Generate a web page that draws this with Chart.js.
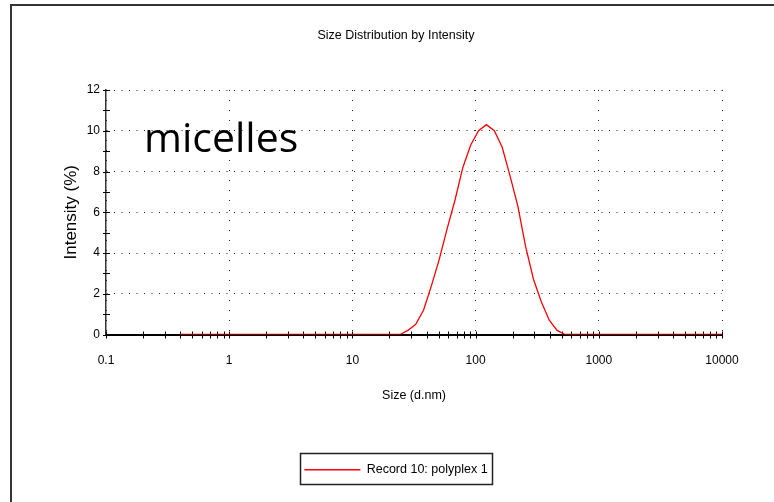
<!DOCTYPE html>
<html>
<head>
<meta charset="utf-8">
<title>Size Distribution by Intensity</title>
<script src="https://cdn.jsdelivr.net/npm/chart.js@4.4.0/dist/chart.umd.min.js"></script>
<style>
  html, body { margin: 0; padding: 0; background: #fff; }
  #wrap { position: relative; width: 774px; height: 502px; overflow: hidden; }
  #frame { position: absolute; left: 10px; top: 4px; right: -4px; bottom: -4px; border-top: 2px solid #333; border-left: 2px solid #333; pointer-events: none; }
</style>
</head>
<body>
<div id="wrap">
  <canvas id="sizeChart" width="774" height="502"></canvas>
  <div id="frame"></div>
</div>
<script>
// canais de tamanho (d.nm) do equipamento
const sizes = [
    0.4, 0.4632, 0.5365, 0.6213, 0.7195, 0.8332, 0.9649, 1.117, 1.294, 1.499,
    1.736, 2.01, 2.328, 2.696, 3.122, 3.615, 4.187, 4.849, 5.615, 6.503,
    7.531, 8.721, 10.1, 11.7, 13.54, 15.69, 18.17, 21.04, 24.36, 28.21,
    32.67, 37.84, 43.82, 50.75, 58.77, 68.06, 78.82, 91.28, 105.7, 122.4,
    141.8, 164.2, 190.1, 220.2, 255.0, 295.3, 342.0, 396.1, 458.7, 531.2,
    615.1, 712.4, 825.0, 955.4, 1106, 1281, 1484, 1718, 1990, 2305,
    2669, 3091, 3580, 4145, 4801, 5560, 6439, 7456, 8635, 10000
];

// intensidade (%)
const intensity = [
    0, 0, 0, 0, 0, 0, 0, 0, 0, 0,
    0, 0, 0, 0, 0, 0, 0, 0, 0, 0,
    0, 0, 0, 0, 0, 0, 0, 0, 0, 0.2,
    0.5, 1.2, 2.4, 3.7, 5.2, 6.6, 8.2, 9.3, 10.0, 10.3,
    10.0, 9.2, 7.8, 6.3, 4.3, 2.7, 1.6, 0.7, 0.2, 0,
    0, 0, 0, 0, 0, 0, 0, 0, 0, 0,
    0, 0, 0, 0, 0, 0, 0, 0, 0, 0
];

const seriesLabel = 'Record 10: polyplex 1';
const xTicks = [0.1, 1, 10, 100, 1000, 10000];
const yTicks = [0, 2, 4, 6, 8, 10, 12];
const noteText = 'micelles';

Chart.defaults.font.family = '"Liberation Sans", Arial, sans-serif';
Chart.defaults.font.size = 12;
Chart.defaults.color = '#111';

// marcas pequenas cruzando os eixos (menores e maiores)
const axisMarks = {
    id: 'axisMarks',
    beforeDatasetsDraw(chart) {
        const { ctx, chartArea, scales: { x, y } } = chart;
        ctx.save();
        ctx.strokeStyle = '#000';
        ctx.lineWidth = 1;
        ctx.beginPath();
        for (let d = 0; d < xTicks.length - 1; d++) {
            for (let m = 1; m < 10; m++) {
                const px = Math.round(x.getPixelForValue(xTicks[d] * m)) + 0.5;
                ctx.moveTo(px, chartArea.bottom - 3);
                ctx.lineTo(px, chartArea.bottom + 4);
            }
        }
        const last = Math.round(x.getPixelForValue(xTicks[xTicks.length - 1])) + 0.5;
        ctx.moveTo(last, chartArea.bottom - 3);
        ctx.lineTo(last, chartArea.bottom + 4);
        for (let v = 0; v <= 12; v++) {
            const py = Math.round(y.getPixelForValue(v)) + 0.5;
            ctx.moveTo(chartArea.left - 3, py);
            ctx.lineTo(chartArea.left + 4, py);
        }
        ctx.stroke();
        ctx.restore();
    }
};

// moldura em volta da legenda
const legendFrame = {
    id: 'legendFrame',
    afterDraw(chart) {
        const hb = chart.legend && chart.legend.legendHitBoxes[0];
        if (!hb) return;
        const ctx = chart.ctx;
        const cy = hb.top + hb.height / 2;
        ctx.save();
        ctx.strokeStyle = '#222';
        ctx.lineWidth = 1.5;
        ctx.strokeRect(Math.round(hb.left) - 3.5, Math.round(cy) - 16.5, Math.round(hb.width) + 9, 31);
        ctx.restore();
    }
};

// texto "micelles" dentro do gráfico
const noteLabel = {
    id: 'noteLabel',
    afterDraw(chart) {
        const ctx = chart.ctx;
        ctx.save();
        ctx.font = '41px "Open Sans", "Noto Sans", sans-serif';
        ctx.fillStyle = '#000';
        ctx.textBaseline = 'alphabetic';
        ctx.fillText(noteText, 144, 152);
        ctx.restore();
    }
};

const ctx = document.getElementById('sizeChart').getContext('2d');
const sizeChart = new Chart(ctx, {
    type: 'line',
    data: {
        datasets: [{
            label: seriesLabel,
            data: sizes.map((s, i) => ({ x: s, y: intensity[i] })),
            borderColor: '#ff0000',
            backgroundColor: '#ff0000',
            borderWidth: 1.3,
            pointRadius: 0,
            tension: 0,
            fill: false
        }]
    },
    options: {
        responsive: false,
        animation: false,
        layout: { padding: { left: 18, right: 0, top: 0, bottom: 16 } },
        plugins: {
            title: {
                display: true,
                text: 'Size Distribution by Intensity',
                color: '#000',
                font: { size: 12.5, weight: 'normal' },
                padding: { top: 28.5, bottom: 46.5 }
            },
            legend: {
                position: 'bottom',
                labels: {
                    usePointStyle: true,
                    pointStyle: 'line',
                    pointStyleWidth: 56,
                    padding: 10,
                    color: '#000',
                    font: { size: 12.5 }
                }
            },
            tooltip: { enabled: false }
        },
        scales: {
            x: {
                type: 'logarithmic',
                min: 0.1,
                max: 10000,
                afterBuildTicks: s => { s.ticks = xTicks.map(v => ({ value: v })); },
                afterFit: s => { s.height = 119; },
                ticks: {
                    padding: 19,
                    autoSkip: false,
                    maxRotation: 0,
                    color: '#000',
                    callback: v => String(v)
                },
                grid: { color: '#222', lineWidth: 1, drawTicks: false },
                border: { color: '#000', width: 2, dash: [1, 9] },
                title: {
                    display: true,
                    text: 'Size (d.nm)',
                    color: '#000',
                    font: { size: 12.5 },
                    padding: { top: 0, bottom: 50 }
                }
            },
            y: {
                min: 0,
                max: 12,
                afterBuildTicks: s => { s.ticks = yTicks.map(v => ({ value: v })); },
                afterFit: s => { s.width = 88; },
                ticks: { padding: 6, color: '#000' },
                grid: { color: '#222', lineWidth: 1, drawTicks: false },
                border: { color: '#333', width: 1.5, dash: [1, 6.5] },
                title: {
                    display: true,
                    text: 'Intensity (%)',
                    color: '#000',
                    font: { size: 17 },
                    padding: { top: 43.5, bottom: 0 }
                }
            },
            // eixo vazio só para reservar a margem direita
            y2: {
                position: 'right',
                display: true,
                afterFit: s => { s.width = 52; },
                ticks: { display: false },
                grid: { display: false },
                border: { display: false }
            }
        }
    },
    plugins: [axisMarks, legendFrame, noteLabel]
});
</script>
</body>
</html>
